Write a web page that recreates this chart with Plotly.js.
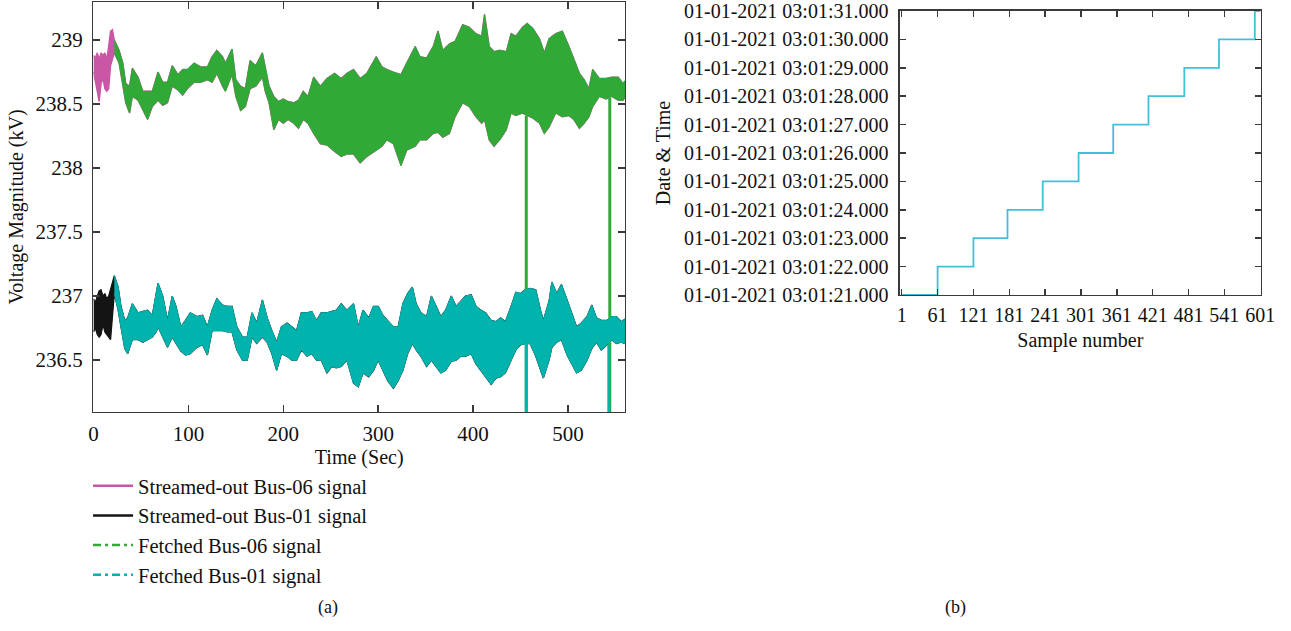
<!DOCTYPE html>
<html><head><meta charset="utf-8">
<script src="https://cdn.plot.ly/plotly-3.0.1.min.js"></script>
<style>html,body{margin:0;padding:0;background:#fff}#chart{width:1291px;height:631px}</style>
</head><body><div id="chart"></div>
<script>
// ---- Panel (a): voltage magnitude envelopes ----
// streamed-out signals before the fetched signals start (0-20 s)
const preT      = [0, 2, 4, 6, 8, 10, 12, 14, 16, 18, 20];
const preUp06   = [238.88, 238.86, 238.90, 238.85, 238.90, 238.88, 238.90, 238.85, 238.95, 239.07, 239.08];
const preLo06   = [238.75, 238.68, 238.60, 238.52, 238.66, 238.70, 238.62, 238.60, 238.62, 238.80, 238.85];
const preUp01   = [236.98, 236.95, 237.00, 237.04, 237.05, 237.00, 237.02, 236.98, 237.00, 237.05, 237.10];
const preLo01   = [236.72, 236.75, 236.70, 236.68, 236.70, 236.78, 236.72, 236.70, 236.68, 236.66, 236.80];

// Bus-06 band (upper / lower envelope), time in s
const t06  = [22,27,31,34,38,41,47,52,57,62,68,73,78,83,89,94,99,106,113,120,125,130,136,139,146,150,155,160,165,171,178,181,185,190,195,200,205,211,216,221,226,232,239,246,254,261,267,274,281,288,298,304,309,316,324,330,339,344,351,358,363,368,375,381,389,396,403,409,412,417,422,428,435,440,445,452,457,463,470,475,480,487,494,501,506,512,517,522,526,533,540,546,553,558,560];
const up06 = [239.00,238.92,238.82,238.66,238.64,238.78,238.71,238.60,238.60,238.60,238.75,238.67,238.67,238.80,238.73,238.77,238.77,238.82,238.79,238.79,238.87,238.92,238.87,238.82,238.93,238.69,238.64,238.62,238.84,238.80,238.90,238.79,238.64,238.56,238.52,238.54,238.52,238.51,238.53,238.60,238.56,238.71,238.64,238.70,238.74,238.70,238.74,238.77,238.70,238.74,238.87,238.79,238.77,238.75,238.73,238.82,238.95,238.87,238.86,238.95,239.07,238.92,238.97,238.99,239.12,239.10,239.05,239.03,239.20,238.95,238.91,238.92,238.91,239.05,239.03,239.10,239.13,239.09,239.01,238.90,239.01,239.05,239.07,238.95,238.86,238.74,238.69,238.62,238.77,238.70,238.70,238.71,238.71,238.66,238.68];
const lo06 = [238.90,238.82,238.64,238.51,238.43,238.56,238.53,238.45,238.38,238.48,238.53,238.49,238.51,238.64,238.61,238.57,238.62,238.67,238.67,238.69,238.67,238.74,238.64,238.60,238.73,238.56,238.45,238.48,238.62,238.64,238.71,238.60,238.51,238.30,238.38,238.35,238.38,238.35,238.31,238.38,238.35,238.27,238.19,238.18,238.13,238.09,238.11,238.11,238.04,238.09,238.14,238.17,238.22,238.19,238.02,238.14,238.17,238.22,238.22,238.27,238.28,238.24,238.27,238.40,238.51,238.48,238.40,238.35,238.38,238.22,238.17,238.22,238.30,238.43,238.41,238.43,238.41,238.39,238.35,238.27,238.32,238.43,238.40,238.41,238.38,238.31,238.35,238.40,238.48,238.56,238.54,238.56,238.53,238.53,238.55];

// Bus-01 band (upper / lower envelope)
const t01  = [22,26,29,33,36,41,47,52,57,62,66,68,73,78,83,87,92,97,102,109,115,120,125,130,136,141,146,151,157,162,167,172,178,183,188,193,198,204,209,214,219,225,230,235,240,246,251,256,261,267,274,279,284,290,295,300,305,310,316,321,326,331,336,340,345,351,356,361,366,371,377,382,387,392,398,403,408,413,419,424,429,434,440,445,450,455,460,466,471,474,480,483,488,493,499,504,509,514,520,525,530,535,541,546,551,556,560];
const up01 = [237.16,237.07,236.92,236.81,236.83,236.94,236.87,236.88,236.89,236.85,237.00,237.10,237.00,236.81,237.00,236.92,236.76,236.81,236.87,236.84,236.85,236.76,236.89,236.98,236.93,236.92,236.92,236.76,236.68,236.68,236.87,236.79,236.97,236.83,236.73,236.64,236.76,236.79,236.76,236.73,236.87,236.87,236.88,236.81,236.87,236.87,236.88,236.89,236.94,236.89,236.94,236.76,236.89,236.83,236.92,236.92,236.85,236.81,236.76,236.76,236.94,237.02,237.07,236.94,236.87,236.84,237.00,236.92,236.84,236.89,237.00,236.92,236.96,237.00,237.01,236.92,236.89,236.87,236.81,236.80,236.83,236.80,236.92,237.03,237.02,237.05,237.06,237.05,236.89,236.81,236.96,237.11,237.02,237.09,236.97,236.87,236.76,236.79,236.84,236.93,236.83,236.81,236.81,236.84,236.84,236.80,236.82];
const lo01 = [237.02,236.89,236.76,236.59,236.55,236.66,236.66,236.64,236.66,236.68,236.72,236.76,236.68,236.60,236.68,236.63,236.57,236.54,236.55,236.60,236.62,236.54,236.73,236.73,236.73,236.72,236.72,236.58,236.50,236.50,236.68,236.63,236.68,236.64,236.55,236.42,236.55,236.53,236.50,236.50,236.58,236.53,236.55,236.50,236.50,236.40,236.45,236.44,236.45,236.50,236.32,236.29,236.40,236.37,236.42,236.50,236.42,236.34,236.28,236.34,236.42,236.55,236.63,236.58,236.53,236.45,236.50,236.45,236.40,236.42,236.49,236.50,236.53,236.53,236.55,236.47,236.42,236.37,236.31,236.36,236.37,236.40,236.50,236.58,236.62,236.63,236.63,236.53,236.42,236.36,236.50,236.60,236.64,236.66,236.54,236.47,236.40,236.42,236.50,236.59,236.64,236.58,236.62,236.66,236.63,236.64,236.63];

// dropouts in the fetched signals: time, value before the drop, value during the drop
const drop06T = [456, 544];
const drop06From = [238.41, 238.55];
const drop01T = [456, 543];
const drop01From = [236.63, 236.62];
const dropValue = 0;

// ---- Panel (b): sample number vs timestamp ----
const stepSample = [1, 61, 121, 178, 237, 297, 355, 414, 474, 532, 592, 601];
const stepSecond = [21, 22, 23, 24, 25, 26, 27, 28, 29, 30, 31, 31];
const sampleTicks = [1, 61, 121, 181, 241, 301, 361, 421, 481, 541, 601];
const secondTicks = [21, 22, 23, 24, 25, 26, 27, 28, 29, 30, 31];
const timeLabels = ["01-01-2021 03:01:21.000","01-01-2021 03:01:22.000","01-01-2021 03:01:23.000","01-01-2021 03:01:24.000","01-01-2021 03:01:25.000","01-01-2021 03:01:26.000","01-01-2021 03:01:27.000","01-01-2021 03:01:28.000","01-01-2021 03:01:29.000","01-01-2021 03:01:30.000","01-01-2021 03:01:31.000"];

const seriesNames = ["Streamed-out Bus-06 signal","Streamed-out Bus-01 signal","Fetched Bus-06 signal","Fetched Bus-01 signal"];
const C = {pink:"#c957a6", black:"#141414", green:"#30a936", cyan:"#00b4ad", step:"#42bfd9", axis:"#3a3a3a"};

function band(t, up, lo) {
  return {x: t.concat(t.slice().reverse()), y: up.concat(lo.slice().reverse())};
}
function drops(t, from) {
  const x = [], y = [];
  t.forEach((v, i) => { x.push(v, v, null); y.push(from[i], dropValue, null); });
  return {x, y};
}

const b06s = band(preT.concat(t06), preUp06.concat(up06), preLo06.concat(lo06));
const b01s = band(preT.concat(t01), preUp01.concat(up01), preLo01.concat(lo01));
const b06f = band(t06, up06, lo06);
const b01f = band(t01, up01, lo01);
const d06 = drops(drop06T, drop06From);
const d01 = drops(drop01T, drop01From);

const FONT = "Liberation Serif, Times New Roman, serif";

const traces = [
  {x:b06s.x, y:b06s.y, fill:"toself", fillcolor:C.pink, mode:"lines", line:{color:C.pink, width:1.4}, showlegend:false, hoverinfo:"skip"},
  {x:b01s.x, y:b01s.y, fill:"toself", fillcolor:C.black, mode:"lines", line:{color:C.black, width:1.3}, showlegend:false, hoverinfo:"skip"},
  {x:b06f.x, y:b06f.y, fill:"toself", fillcolor:C.green, mode:"lines", line:{color:C.green, width:1}, showlegend:false, hoverinfo:"skip"},
  {x:d06.x, y:d06.y, mode:"lines", line:{color:C.green, width:3}, showlegend:false, hoverinfo:"skip"},
  {x:b01f.x, y:b01f.y, fill:"toself", fillcolor:C.cyan, mode:"lines", line:{color:C.cyan, width:1}, showlegend:false, hoverinfo:"skip"},
  {x:d01.x, y:d01.y, mode:"lines", line:{color:C.cyan, width:3}, showlegend:false, hoverinfo:"skip"},
  {x:[null], y:[null], mode:"lines", name:seriesNames[0], line:{color:C.pink, width:2.5}},
  {x:[null], y:[null], mode:"lines", name:seriesNames[1], line:{color:C.black, width:2.5}},
  {x:[null], y:[null], mode:"lines", name:seriesNames[2], line:{color:C.green, width:2.5, dash:"8px,4px,3px,4px"}},
  {x:[null], y:[null], mode:"lines", name:seriesNames[3], line:{color:C.cyan, width:2.5, dash:"8px,4px,3px,4px"}},
  {x:stepSample, y:stepSecond, xaxis:"x2", yaxis:"y2", mode:"lines", line:{color:C.step, width:1.8, shape:"hv"}, showlegend:false, hoverinfo:"skip"}
];

const axBase = {showgrid:false, zeroline:false, showline:true, linecolor:C.axis, linewidth:1.5, mirror:"ticks",
  ticks:"inside", ticklen:7, tickwidth:1.5, tickcolor:C.axis, automargin:false, ticklabeloverflow:"allow",
  tickfont:{family:FONT, size:21, color:"#111"}};

const layout = {
  width:1291, height:631, margin:{l:0, r:0, t:0, b:0, autoexpand:false}, paper_bgcolor:"#fff", plot_bgcolor:"#fff",
  font:{family:FONT, color:"#111"},
  xaxis: Object.assign({}, axBase, {domain:[0.0724, 0.4841], range:[0, 560], tickvals:[0,100,200,300,400,500],
    anchor:"y", ticklabelstandoff:2, automargin:true, title:{text:"Time (Sec)", font:{family:FONT, size:20, color:"#111"}, standoff:3}}),
  yaxis: Object.assign({}, axBase, {domain:[0.3471, 0.9968], range:[236.095, 239.297], tickvals:[236.5,237,237.5,238,238.5,239],
    anchor:"x", ticklabelstandoff:5, automargin:true, title:{text:"Voltage Magnitude (kV)", font:{family:FONT, size:20, color:"#111"}, standoff:6}}),
  xaxis2: Object.assign({}, axBase, {domain:[0.6971, 0.9766], range:[-2, 602], tickvals:sampleTicks, ticklen:6,
    anchor:"y2", ticklabelstandoff:2, automargin:true, title:{text:"Sample number", font:{family:FONT, size:20, color:"#111"}, standoff:7},
    tickfont:{family:FONT, size:20, color:"#111"}}),
  yaxis2: Object.assign({}, axBase, {domain:[0.5325, 0.9826], range:[21, 31], tickvals:secondTicks, ticktext:timeLabels, ticklen:6,
    anchor:"x2", ticklabelstandoff:6, title:{text:"Date & Time", font:{family:FONT, size:20, color:"#111"}, standoff:8},
    tickfont:{family:FONT, size:20, color:"#111"}}),
  showlegend:true,
  legend:{x:0.0682, y:0.2615, xanchor:"left", yanchor:"top", bgcolor:"rgba(0,0,0,0)", borderwidth:0,
    font:{family:FONT, size:20.5, color:"#111"}, itemwidth:40, tracegroupgap:0},
  annotations:[
    {text:"(a)", x:0.2448, y:0.038, xref:"paper", yref:"paper", yanchor:"middle", showarrow:false, font:{family:FONT, size:18, color:"#111"}},
    {text:"(b)", x:0.7498, y:0.038, xref:"paper", yref:"paper", yanchor:"middle", showarrow:false, font:{family:FONT, size:18, color:"#111"}}
  ]
};

Plotly.newPlot("chart", traces, layout, {staticPlot:true, displayModeBar:false});
</script></body></html>
